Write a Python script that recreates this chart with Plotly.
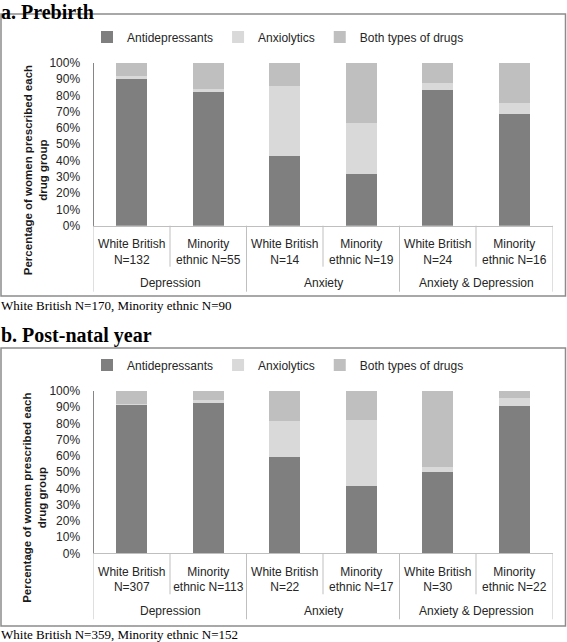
import plotly.graph_objects as go

W, H = 567, 642


def px(x):
    return x / W


def py(y):
    return 1 - y / H


# ---------------- data ----------------
groups = ["Depression", "Anxiety", "Anxiety & Depression"]
series_names = ["Antidepressants", "Anxiolytics", "Both types of drugs"]
series_colors = ["#7f7f7f", "#d9d9d9", "#bfbfbf"]
y_ticks = [0, 10, 20, 30, 40, 50, 60, 70, 80, 90, 100]
y_tick_labels = ["0%", "10%", "20%", "30%", "40%", "50%", "60%", "70%", "80%", "90%", "100%"]

pre_labels = ["White British<br>N=132", "Minority<br>ethnic N=55",
              "White British<br>N=14", "Minority<br>ethnic N=19",
              "White British<br>N=24", "Minority<br>ethnic N=16"]
pre_antidep = [90.2, 81.8, 42.9, 31.6, 83.3, 68.8]
pre_anxio = [1.5, 1.8, 42.9, 31.6, 4.2, 6.2]
pre_both = [8.3, 16.4, 14.2, 36.8, 12.5, 25.0]

post_labels = ["White British<br>N=307", "Minority<br>ethnic N=113",
               "White British<br>N=22", "Minority<br>ethnic N=17",
               "White British<br>N=30", "Minority<br>ethnic N=22"]
post_antidep = [91.9, 92.9, 59.1, 41.2, 50.0, 90.9]
post_anxio = [0.3, 1.8, 22.7, 41.2, 3.3, 4.5]
post_both = [7.8, 5.3, 18.2, 17.6, 46.7, 4.6]

panel_titles = ["a. Prebirth", "b. Post-natal year"]
panel_captions = ["White British N=170, Minority ethnic N=90",
                  "White British N=359, Minority ethnic N=152"]
y_title = "Percentage of women prescribed each<br>drug group"

# ---------------- figure ----------------
SANS = "Liberation Sans, Arial, sans-serif"
SERIF = "Liberation Serif, Times New Roman, serif"
TXT = "#262626"

fig = go.Figure()

panels = [
    dict(labels=pre_labels, vals=[pre_antidep, pre_anxio, pre_both],
         xa="x", ya="y", legend="legend", top=62.7, bottom=225.7,
         box=(14, 296), title_y=11.5, cap_y=306, legend_y=37),
    dict(labels=post_labels, vals=[post_antidep, post_anxio, post_both],
         xa="x2", ya="y2", legend="legend2", top=391, bottom=553.3,
         box=(348, 626), title_y=335, cap_y=634, legend_y=365),
]

shapes = []
annotations = []
X_LEFT, X_RIGHT = 93.5, 552.5

for i, p in enumerate(panels):
    for name, color, v in zip(series_names, series_colors, p["vals"]):
        fig.add_trace(go.Bar(
            x=p["labels"], y=v, name=name, marker=dict(color=color, line=dict(width=0)),
            xaxis=p["xa"], yaxis=p["ya"], legend=p["legend"], showlegend=True,
        ))
    ax_suffix = "" if i == 0 else "2"
    fig.update_layout(**{
        "xaxis" + ax_suffix: dict(
            domain=[px(X_LEFT), px(X_RIGHT)], anchor="y" + ax_suffix,
            type="category", range=[-0.5, 5.5], showline=True, linecolor="#bfbfbf",
            linewidth=1, ticks="", ticklen=0, showgrid=False, zeroline=False,
            tickfont=dict(family=SANS, size=12, color=TXT), ticklabelstandoff=7,
            fixedrange=True, automargin=False,
        ),
        "yaxis" + ax_suffix: dict(
            domain=[py(p["bottom"]), py(p["top"])], anchor="x" + ax_suffix,
            range=[0, 100], tickmode="array", tickvals=y_ticks, ticktext=y_tick_labels,
            showline=True, linecolor="#868686", linewidth=1, ticks="", ticklen=0,
            showgrid=False, zeroline=False,
            tickfont=dict(family=SANS, size=12, color=TXT), ticklabelstandoff=10,
            fixedrange=True, automargin=False,
        ),
    })
    # panel box
    shapes.append(dict(type="rect", xref="paper", yref="paper",
                       x0=px(1), x1=px(565.5), y0=py(p["box"][0]), y1=py(p["box"][1]),
                       line=dict(color="#8c8c8c", width=1.5), fillcolor="rgba(0,0,0,0)",
                       layer="below"))
    # category separators
    axb = p["bottom"]
    for k in range(7):
        xpos = k - 0.5
        long = (k % 2 == 0)
        shapes.append(dict(type="line", xref=p["xa"], yref="paper",
                           x0=xpos, x1=xpos, y0=py(axb), y1=py(axb + (66 if long else 41)),
                           line=dict(color="#bfbfbf", width=1)))
    # group labels
    for g, gname in enumerate(groups):
        annotations.append(dict(text=gname, xref=p["xa"], yref="paper",
                                x=2 * g + 0.5, y=py(axb + 57.5), showarrow=False,
                                xanchor="center", yanchor="middle",
                                font=dict(family=SANS, size=12, color=TXT)))
    # y-axis title
    annotations.append(dict(text="<b>" + y_title + "</b>", xref="paper", yref="paper",
                            x=px(35), y=py(axb - 55.5), textangle=-90, showarrow=False,
                            xanchor="center", yanchor="middle",
                            font=dict(family=SANS, size=11.5, color="#1a1a1a")))
    # panel title and caption
    annotations.append(dict(text="<b>" + panel_titles[i] + "</b>", xref="paper", yref="paper",
                            x=0, y=py(p["title_y"]), showarrow=False, xanchor="left",
                            yanchor="middle", borderpad=0,
                            font=dict(family=SERIF, size=20, color="#000000")))
    annotations.append(dict(text=panel_captions[i], xref="paper", yref="paper",
                            x=0, y=py(p["cap_y"]), showarrow=False, xanchor="left",
                            yanchor="middle", borderpad=0,
                            font=dict(family=SERIF, size=13, color="#000000")))

legend_style = dict(orientation="h", xanchor="center", yanchor="middle",
                    font=dict(family=SANS, size=12, color=TXT), itemwidth=30,
                    bgcolor="rgba(0,0,0,0)", traceorder="normal", itemclick=False,
                    itemdoubleclick=False)

fig.update_layout(
    width=W, height=H, margin=dict(l=0, r=0, t=0, b=0, autoexpand=False),
    paper_bgcolor="white", plot_bgcolor="white",
    barmode="stack", bargap=0.6,
    legend=dict(x=px(278), y=py(panels[0]["legend_y"]), **legend_style),
    legend2=dict(x=px(278), y=py(panels[1]["legend_y"]), **legend_style),
    shapes=shapes, annotations=annotations,
    font=dict(family=SANS),
)

fig.write_html(
    "out.html",
    config={"displayModeBar": False},
    post_script="document.body.style.margin='0px';document.body.style.overflow='hidden';",
)
